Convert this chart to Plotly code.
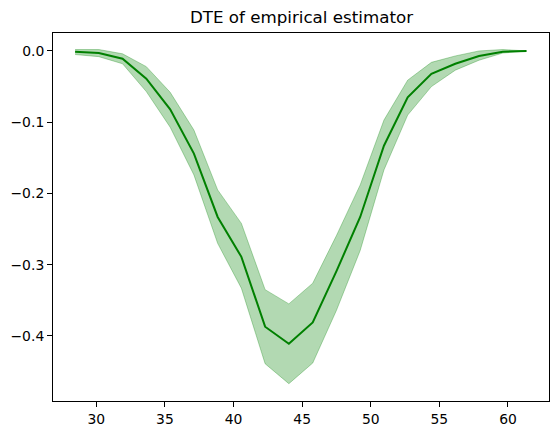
import plotly.graph_objects as go

# x positions of the estimator grid
x_vals = [28.45, 30.18, 31.91, 33.64, 35.38, 37.11, 38.84, 40.57, 42.30, 44.03,
          45.77, 47.50, 49.23, 50.96, 52.69, 54.42, 56.16, 57.89, 59.62, 61.35]

# mean DTE and the band around it
dte_mean = [-0.001, -0.003, -0.011, -0.039, -0.082, -0.144, -0.233, -0.289, -0.387, -0.411,
            -0.381, -0.309, -0.233, -0.133, -0.065, -0.032, -0.018, -0.007, -0.001, 0.0]
dte_upper = [0.002, 0.002, -0.004, -0.022, -0.058, -0.111, -0.195, -0.242, -0.335, -0.355,
             -0.326, -0.259, -0.188, -0.097, -0.041, -0.016, -0.007, 0.0, 0.002, 0.0]
dte_lower = [-0.005, -0.008, -0.018, -0.057, -0.107, -0.174, -0.270, -0.333, -0.439, -0.467,
             -0.438, -0.364, -0.280, -0.167, -0.090, -0.050, -0.027, -0.013, -0.003, 0.0]

x_ticks = [30, 35, 40, 45, 50, 55, 60]
y_ticks = [0.0, -0.1, -0.2, -0.3, -0.4]
y_labels = ["0.0", "\u22120.1", "\u22120.2", "\u22120.3", "\u22120.4"]

band = "rgba(0,128,0,0.3)"

fig = go.Figure()
fig.add_trace(go.Scatter(x=x_vals, y=dte_upper, mode="lines",
                         line=dict(color=band, width=1), showlegend=False, hoverinfo="skip"))
fig.add_trace(go.Scatter(x=x_vals, y=dte_lower, mode="lines", fill="tonexty",
                         fillcolor=band, line=dict(color=band, width=1),
                         showlegend=False, hoverinfo="skip"))
fig.add_trace(go.Scatter(x=x_vals, y=dte_mean, mode="lines",
                         line=dict(color="green", width=2), showlegend=False))

axis_style = dict(showgrid=False, zeroline=False, showline=True, linecolor="black",
                  linewidth=1, mirror=True, ticks="outside", ticklen=5, tickwidth=1,
                  tickcolor="black", automargin=False,
                  tickfont=dict(family="DejaVu Sans", size=13.9, color="black"))

fig.update_xaxes(range=[26.84, 62.99], tickvals=x_ticks, **axis_style)
fig.update_yaxes(range=[-0.4913, 0.0252], tickvals=y_ticks, ticktext=y_labels, **axis_style)

# the page body adds an 8px offset, so margins are shifted to compensate
fig.update_layout(
    width=559, height=435,
    margin=dict(l=45, r=18, t=25, b=42),
    plot_bgcolor="white", paper_bgcolor="white",
    title=dict(text="DTE of empirical estimator", x=0.525, xanchor="center",
               y=1 - 9.5 / 435, yref="container", yanchor="middle",
               font=dict(family="DejaVu Sans", size=16.7, color="black")),
)

fig.write_html("out.html")
